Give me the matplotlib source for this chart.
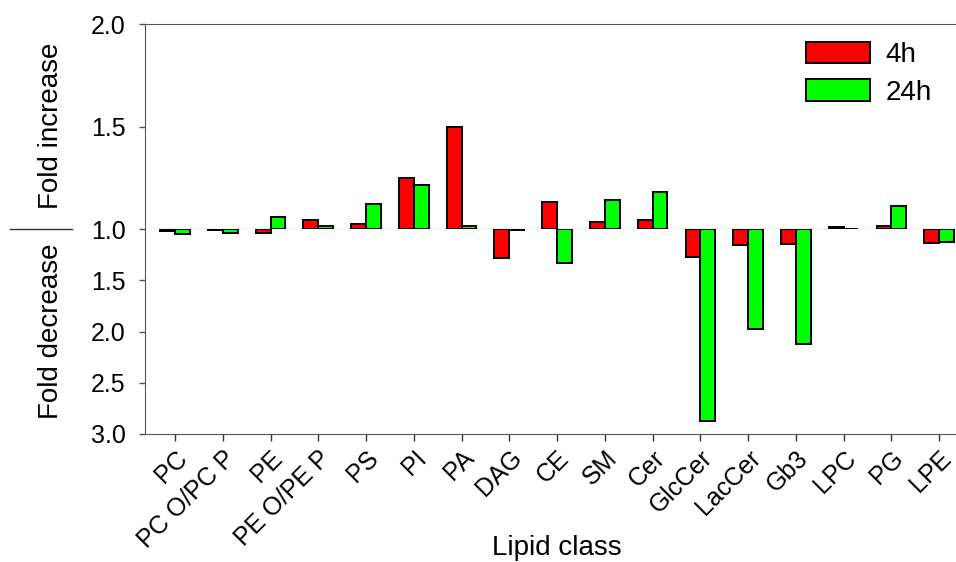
import numpy as np
import matplotlib
matplotlib.use("Agg")
import matplotlib.pyplot as plt
from matplotlib.lines import Line2D

plt.rcParams["font.family"] = ["Liberation Sans", "DejaVu Sans"]

# fold change per lipid class; positive = fold increase, negative = fold decrease
classes = ["PC", "PC O/PC P", "PE", "PE O/PE P", "PS", "PI", "PA", "DAG",
           "CE", "SM", "Cer", "GlcCer", "LacCer", "Gb3", "LPC", "PG", "LPE"]
fold_4h = [-1.02, -1.01, -1.04, 1.045, 1.025, 1.25, 1.50, -1.28,
           1.13, 1.035, 1.042, -1.27, -1.16, -1.15, 1.01, 1.013, -1.14]
fold_24h = [-1.05, -1.04, 1.06, 1.016, 1.12, 1.215, 1.016, -1.006,
            -1.33, 1.14, 1.18, -2.87, -1.98, -2.12, 1.0, 1.11, -1.125]
series = [("4h", fold_4h, "#ff0000"), ("24h", fold_24h, "#00ff00")]

W, H = 956, 562
fig = plt.figure(figsize=(W / 100, H / 100), dpi=100)

left, right = 145, 963
top, mid, bot = 24, 229, 434
ax_up = fig.add_axes([left / W, 1 - mid / H, (right - left) / W, (mid - top) / H])
ax_dn = fig.add_axes([left / W, 1 - bot / H, (right - left) / W, (bot - mid) / H])

x = np.arange(len(classes))
bw = 0.31
for i, (name, vals, col) in enumerate(series):
    vals = np.asarray(vals)
    xs = x + (i - 0.5) * bw
    up = vals > 0
    ax_up.bar(xs[up], vals[up] - 1.0, bw, bottom=1.0, color=col,
              edgecolor="black", linewidth=1.4, label=name, zorder=3)
    ax_dn.bar(xs[~up], -vals[~up] - 1.0, bw, bottom=1.0, color=col,
              edgecolor="black", linewidth=1.4, zorder=3)

for ax in (ax_up, ax_dn):
    ax.set_xlim(-0.628, 16.5)
    ax.set_xticks(x)
    ax.spines["right"].set_visible(False)
    ax.spines["left"].set_color("#555555")
    ax.tick_params(axis="y", direction="out", length=4, width=1, pad=10,
                   labelsize=18, color="#555555")
    ax.tick_params(axis="x", direction="out", length=5, width=1, color="#333333")

ax_up.set_ylim(1.0, 2.0)
ax_up.set_yticks([1.0, 1.5, 2.0])
ax_up.set_yticklabels(["1.0", "1.5", "2.0"])
ax_up.spines["top"].set_color("#555555")
ax_up.spines["bottom"].set_color("black")
ax_up.tick_params(axis="x", labelbottom=False)

ax_dn.set_ylim(3.0, 1.0)
ax_dn.set_yticks([1.5, 2.0, 2.5, 3.0])
ax_dn.set_yticklabels(["1.5", "2.0", "2.5", "3.0"])
ax_dn.spines["top"].set_visible(False)
ax_dn.spines["bottom"].set_color("#555555")
ax_dn.set_xticklabels(classes, rotation=45, ha="right", rotation_mode="anchor",
                      fontsize=18)

fig.text(557 / W, 1 - 548 / H, "Lipid class", ha="center", va="center",
         fontsize=20)
fig.text(51 / W, 1 - 126 / H, "Fold increase", rotation=90, ha="center",
         va="center", fontsize=20)
fig.text(51 / W, 1 - 331 / H, "Fold decrease", rotation=90, ha="center",
         va="center", fontsize=20)
fig.add_artist(Line2D([10 / W, 72 / W], [1 - mid / H, 1 - mid / H],
                      transform=fig.transFigure, color="#333333", lw=1))

ax_up.legend(loc="upper left", bbox_to_anchor=(806 / W, 1 - 42 / H),
             bbox_transform=fig.transFigure, frameon=False, fontsize=20,
             handlelength=2.3, handleheight=0.8, handletextpad=0.55,
             labelspacing=0.4, borderpad=0, borderaxespad=0)

fig.savefig("out.png", dpi=100)
